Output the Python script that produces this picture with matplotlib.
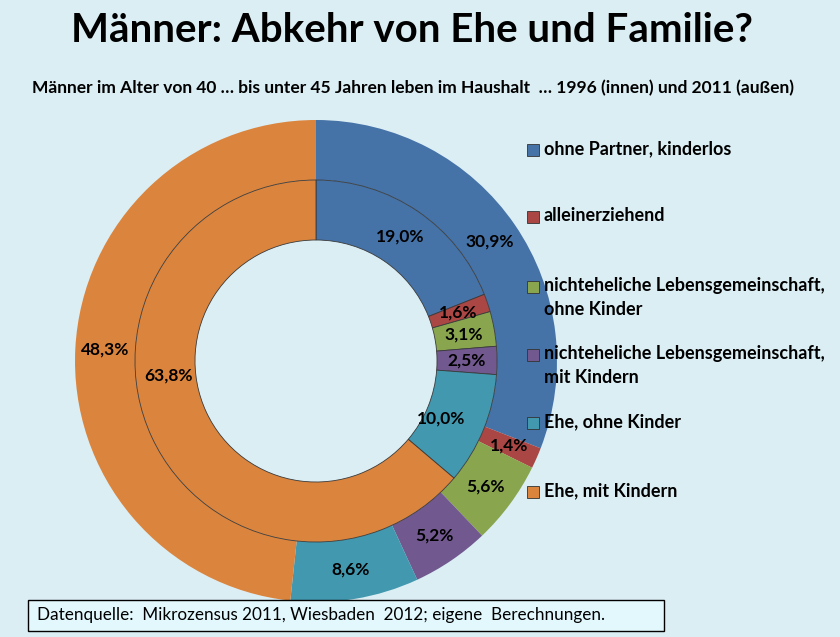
import matplotlib.pyplot as plt
from matplotlib.patches import Rectangle

plt.rcParams['font.family'] = ['Lato', 'DejaVu Sans']

categories = ["ohne Partner, kinderlos", "alleinerziehend",
              "nichteheliche Lebensgemeinschaft,\nohne Kinder",
              "nichteheliche Lebensgemeinschaft,\nmit Kindern",
              "Ehe, ohne Kinder", "Ehe, mit Kindern"]
values_1996 = [19.0, 1.6, 3.1, 2.5, 10.0, 63.8]
values_2011 = [30.9, 1.4, 5.6, 5.2, 8.6, 48.3]
colors = ["#4572A7", "#AA4643", "#89A54E", "#71588F", "#4198AF", "#DB843D"]

bg = "#DBEEF4"
W, H = 840, 637
fig = plt.figure(figsize=(8.4, 6.37), dpi=100, facecolor=bg)

# pie centre (316, 361) px, outer radius 241 px
cx, cy, R = 316, 361, 241
ax = fig.add_axes([(cx - R) / W, (H - cy - R) / H, 2 * R / W, 2 * R / H])
ax.set_facecolor(bg)

def fmt(p):
    return f"{p:.1f}".replace(".", ",") + "%"

r_mid = 181 / R
r_in = 121 / R

_, _, t_out = ax.pie(values_2011, colors=colors, radius=1.0, startangle=90,
                     counterclock=False, autopct=fmt, pctdistance=0.875,
                     wedgeprops=dict(width=1 - r_mid, linewidth=0))
_, _, t_in = ax.pie(values_1996, colors=colors, radius=r_mid, startangle=90,
                    counterclock=False, autopct=fmt, pctdistance=0.83,
                    wedgeprops=dict(width=r_mid - r_in, edgecolor="#3a3a3a",
                                    linewidth=0.6))
for t in t_out + t_in:
    t.set_fontsize(12.5)
    t.set_fontweight("bold")
    t.set_color("black")
# Excel puts the big inner label further up on the left side
t_in[-1].set_position((-0.61, -0.06))
t_in[4].set_position((0.52, -0.24))
ax.set_xlim(-1, 1)
ax.set_ylim(-1, 1)
ax.set_aspect("equal")
ax.axis("off")

fig.text(0.49, 1 - 31 / H, "Männer: Abkehr von Ehe und Familie?", ha="center",
         va="center", fontsize=29, fontweight="bold")
fig.text(413 / W, 1 - 88 / H,
         "Männer im Alter von 40 … bis unter 45 Jahren leben im Haushalt  … 1996 (innen) und 2011 (außen)",
         ha="center", va="center", fontsize=12.5, fontweight="bold")

# legend
leg_y = [150, 217, 287, 355, 423, 492]
for lab, col, y in zip(categories, colors, leg_y):
    fig.patches.append(Rectangle((527 / W, 1 - (y + 6) / H), 12 / W, 12 / H,
                                 transform=fig.transFigure, facecolor=col,
                                 edgecolor="#333333", linewidth=0.6))
    fig.text(544 / W, 1 - (y - 10) / H, lab, ha="left", va="top",
             fontsize=13, fontweight="bold", linespacing=1.5)

# source box
fig.patches.append(Rectangle((28 / W, 1 - 631 / H), 636 / W, 31 / H,
                             transform=fig.transFigure, facecolor="#E2F8FD",
                             edgecolor="black", linewidth=1, zorder=5))
fig.text(37 / W, 1 - 615 / H,
         "Datenquelle:  Mikrozensus 2011, Wiesbaden  2012; eigene  Berechnungen.",
         ha="left", va="center", fontsize=12.3, zorder=6)

fig.savefig("out.png", dpi=100, facecolor=bg)
